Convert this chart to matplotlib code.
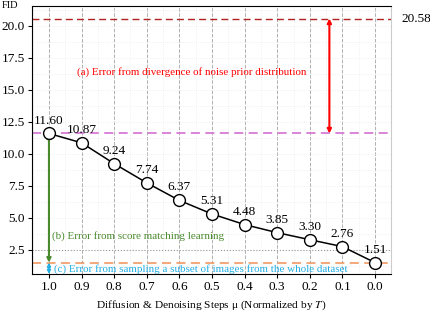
import matplotlib
matplotlib.use("Agg")
import matplotlib.pyplot as plt
from matplotlib.ticker import MultipleLocator

steps = [1.0, 0.9, 0.8, 0.7, 0.6, 0.5, 0.4, 0.3, 0.2, 0.1, 0.0]
fid = [11.60, 10.87, 9.24, 7.74, 6.37, 5.31, 4.48, 3.85, 3.30, 2.76, 1.51]
prior_fid = 20.58
full_fid = 11.60
floor_fid = 1.51
ref_line = 2.5
xtick_vals = [1.0, 0.9, 0.8, 0.7, 0.6, 0.5, 0.4, 0.3, 0.2, 0.1, 0.0]
ytick_vals = [2.5, 5.0, 7.5, 10.0, 12.5, 15.0, 17.5, 20.0]

plt.rcParams['font.family'] = ['Liberation Serif', 'DejaVu Serif']
plt.rcParams['mathtext.fontset'] = 'stix'

fig = plt.figure(figsize=(4.3, 3.12), dpi=100)
ax = fig.add_axes([32/430, 1-274/312, (391-32)/430, (274-6)/312])

ax.set_xlim(1.052, -0.049)
ax.set_ylim(0.62, 21.56)

ax.xaxis.set_minor_locator(MultipleLocator(0.05))
ax.yaxis.set_minor_locator(MultipleLocator(1.25))
ax.grid(True, which='major', axis='x', linestyle='--', color='#b0b0b0', linewidth=0.7)
ax.grid(True, which='major', axis='y', linestyle=':', color='#ececec', linewidth=0.6)
ax.grid(True, which='minor', linestyle=':', color='#ececec', linewidth=0.6)
ax.tick_params(which='minor', length=0)
ax.axhline(ref_line, color='#999999', linestyle=':', linewidth=0.8)

ax.axhline(prior_fid, color='#b22222', linestyle='--', linewidth=1.0, dashes=(5, 3))
ax.axhline(full_fid, color='#d77ad6', linestyle='--', linewidth=1.3, dashes=(5, 3))
ax.axhline(floor_fid, color='#f0a070', linestyle='--', linewidth=1.3, dashes=(5, 3))

ax.plot(steps, fid, color='black', linewidth=1.1, marker='o', markersize=8.5,
        markerfacecolor='white', markeredgecolor='black', markeredgewidth=1.0, zorder=5)
for s, v in zip(steps, fid):
    ax.annotate(f"{v:.2f}", (s, v), xytext=(0, 5), textcoords='offset points',
                ha='center', va='bottom', fontsize=9.5, color='black', zorder=6)

ax.annotate('', xy=(0.14, full_fid), xytext=(0.14, prior_fid),
            arrowprops=dict(arrowstyle='<|-|>', color='red', lw=1.5,
                            mutation_scale=6, shrinkA=0, shrinkB=0))
ax.annotate('', xy=(1.0, floor_fid), xytext=(1.0, full_fid),
            arrowprops=dict(arrowstyle='<|-|>', color='#4a8a2e', lw=1.5,
                            mutation_scale=6, shrinkA=0, shrinkB=0))
ax.annotate('', xy=(1.0, 0.62), xytext=(1.0, floor_fid),
            arrowprops=dict(arrowstyle='<|-|>', color='#22aee6', lw=1.2,
                            mutation_scale=5, shrinkA=0, shrinkB=0))

ax.text(0.915, 16.4, '(a) Error from divergence of noise prior distribution',
        color='red', fontsize=7.9, va='center', ha='left')
ax.text(0.99, 3.6, '(b) Error from score matching learning',
        color='#4a8a2e', fontsize=7.9, va='center', ha='left')
ax.text(0.985, 1.0, '(c) Error from sampling a subset of images from the whole dataset',
        color='#22aee6', fontsize=7.9, va='center', ha='left')

ax.set_xticks(xtick_vals)
ax.set_xticklabels([f"{t:.1f}" for t in xtick_vals])
ax.set_yticks(ytick_vals)
ax.set_yticklabels([f"{t:.1f}" for t in ytick_vals])
ax.tick_params(axis='both', which='major', labelsize=9.5, length=3, width=0.8, pad=2)

ax.spines['right'].set_color('#cccccc')
for sp in ['left', 'bottom', 'top']:
    ax.spines[sp].set_color('black')

ax.set_xlabel(r'Diffusion & Denoising Steps μ (Normalized by $T$)', fontsize=8.2, labelpad=4)
fig.text(2/430, 1-6/312, 'FID', fontsize=7.5, va='center', ha='left')
ax.text(1.03, prior_fid, f"{prior_fid:.2f}", transform=ax.get_yaxis_transform(),
        fontsize=9.5, va='center', ha='left')

fig.savefig('out.png', dpi=100)
